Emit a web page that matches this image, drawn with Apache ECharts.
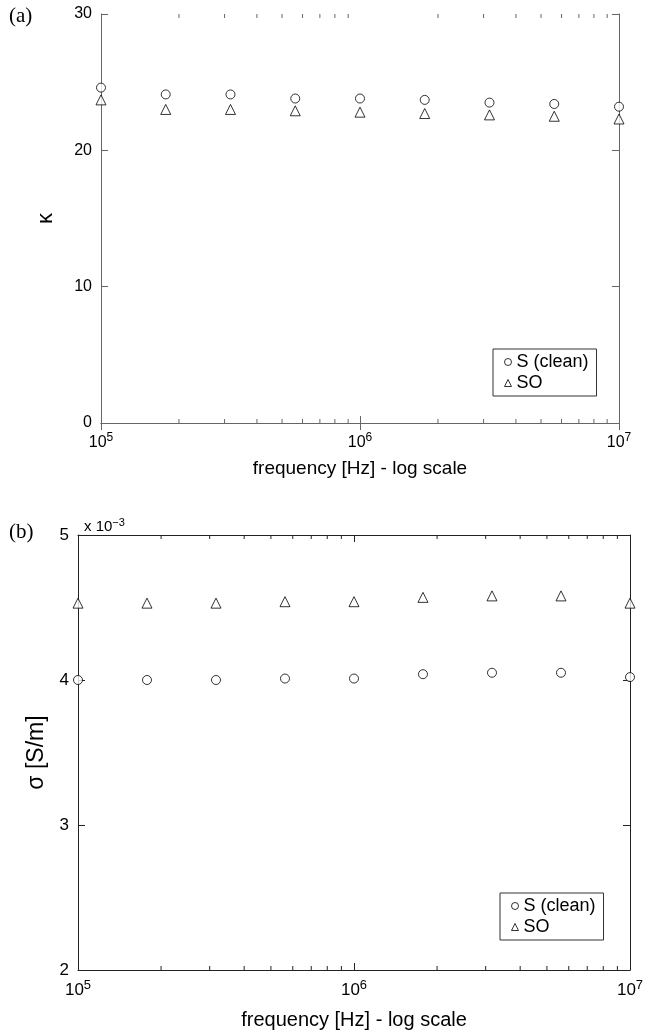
<!DOCTYPE html>
<html>
<head>
<meta charset="utf-8">
<script src="https://cdn.jsdelivr.net/npm/echarts@6/dist/echarts.min.js"></script>
<style>
  html, body { margin: 0; padding: 0; background: #fff; }
  #main { width: 662px; height: 1036px; }
</style>
</head>
<body>
<div id="main"></div>
<script>
// frequencies, 4 per decade
const freqs = [1e5, 1.778e5, 3.162e5, 5.623e5, 1e6, 1.778e6, 3.162e6, 5.623e6, 1e7];
// (a) dielectric constant
const kappaClean = [24.6, 24.1, 24.1, 23.8, 23.8, 23.7, 23.5, 23.4, 23.2];
const kappaSO = [23.7, 23.0, 23.0, 22.9, 22.8, 22.7, 22.6, 22.5, 22.3];
// (b) conductivity, x 10^-3 S/m
const sigmaClean = [4.00, 4.00, 4.00, 4.01, 4.01, 4.04, 4.05, 4.05, 4.02];
const sigmaSO = [4.53, 4.53, 4.53, 4.54, 4.54, 4.57, 4.58, 4.58, 4.53];
// log minor tick positions
const minorTicks = [2e5, 3e5, 4e5, 5e5, 6e5, 7e5, 8e5, 9e5, 2e6, 3e6, 4e6, 5e6, 6e6, 7e6, 8e6, 9e6];
const kappaRange = [0, 30];
const sigmaRange = [2, 5];

const font = 'Liberation Sans';
const chart = echarts.init(document.getElementById('main'));

function pair (ys) {
  return freqs.map((f, i) => [f, ys[i]]);
}

function xAxes (grid, color, size) {
  const line = { lineStyle: { color: color, width: 1 } };
  return [
    {
      type: 'log',
      logBase: 10,
      gridIndex: grid,
      min: 1e5,
      max: 1e7,
      axisLine: line,
      axisTick: { inside: true, length: 7, lineStyle: { color: color } },
      splitLine: { show: false },
      axisLabel: {
        margin: 9,
        formatter: function (v) {
          return '{b|10}{s|' + Math.round(Math.log10(v)) + '}';
        },
        rich: {
          b: { fontFamily: font, fontSize: size, color: '#000' },
          s: { fontFamily: font, fontSize: size - 4, color: '#000', padding: [0, 0, 10, 0] }
        }
      },
      name: 'frequency [Hz] - log scale',
      nameLocation: 'middle',
      nameGap: grid === 0 ? 36 : 40,
      nameTextStyle: { fontFamily: font, fontSize: size + 3, color: '#000' }
    },
    {
      type: 'log',
      logBase: 10,
      gridIndex: grid,
      position: 'top',
      min: 1e5,
      max: 1e7,
      axisLine: line,
      axisTick: { inside: true, length: 7, lineStyle: { color: color } },
      axisLabel: { show: false },
      splitLine: { show: false }
    }
  ];
}

function yAxes (grid, range, step, color, size, name, nameSize, gap) {
  const line = { lineStyle: { color: color, width: 1 } };
  return [
    {
      type: 'value',
      gridIndex: grid,
      min: range[0],
      max: range[1],
      interval: step,
      axisLine: line,
      axisTick: { inside: true, length: 7, lineStyle: { color: color } },
      splitLine: { show: false },
      axisLabel: { margin: 9, fontFamily: font, fontSize: size, color: '#000' },
      name: name,
      nameLocation: 'middle',
      nameRotate: 90,
      nameGap: gap,
      nameTextStyle: { fontFamily: font, fontSize: nameSize, color: '#000' }
    },
    {
      type: 'value',
      gridIndex: grid,
      position: 'right',
      min: range[0],
      max: range[1],
      interval: step,
      axisLine: line,
      axisTick: { inside: true, length: 7, lineStyle: { color: color } },
      splitLine: { show: false },
      axisLabel: { show: false }
    }
  ];
}

function minorSeries (xi, yi, range, color) {
  return {
    type: 'custom',
    xAxisIndex: xi,
    yAxisIndex: yi,
    silent: true,
    clip: false,
    data: minorTicks.map((v) => [v]),
    renderItem: function (params, api) {
      const v = api.value(0);
      const b = api.coord([v, range[0]]);
      const t = api.coord([v, range[1]]);
      const st = { stroke: color, lineWidth: 1 };
      return {
        type: 'group',
        children: [
          { type: 'line', shape: { x1: b[0], y1: b[1], x2: b[0], y2: b[1] - 4 }, style: st },
          { type: 'line', shape: { x1: t[0], y1: t[1], x2: t[0], y2: t[1] + 4 }, style: st }
        ]
      };
    }
  };
}

function scatter (name, xi, yi, data, symbol, size) {
  return {
    name: name,
    type: 'scatter',
    xAxisIndex: xi,
    yAxisIndex: yi,
    clip: false,
    symbol: symbol,
    symbolSize: size,
    itemStyle: { color: '#fff', borderColor: '#000', borderWidth: 1 },
    data: data
  };
}

function legendAt (left, top) {
  return {
    left: left,
    top: top,
    orient: 'vertical',
    data: ['S (clean)', 'SO'],
    borderColor: '#333',
    borderWidth: 1,
    borderRadius: 0,
    padding: [4, 8, 4, 11],
    itemGap: 3,
    itemWidth: 7,
    itemHeight: 7,
    itemStyle: { borderWidth: 1, color: '#fff', borderColor: '#000' },
    selectedMode: false,
    textStyle: { fontFamily: font, fontSize: 18, color: '#000' }
  };
}

const option = {
  backgroundColor: '#fff',
  animation: false,
  title: [
    { text: '(a)', left: 4, top: 1, textStyle: { fontFamily: 'Liberation Serif', fontSize: 21, fontWeight: 'normal', color: '#000' } },
    { text: '(b)', left: 4, top: 517, textStyle: { fontFamily: 'Liberation Serif', fontSize: 21, fontWeight: 'normal', color: '#000' } },
    {
      text: '{t|x 10}{s|\u22123}',
      left: 79,
      top: 512,
      textStyle: {
        fontWeight: 'normal',
        rich: {
          t: { fontFamily: font, fontSize: 15, fontWeight: 'normal', color: '#000' },
          s: { fontFamily: font, fontSize: 11, fontWeight: 'normal', color: '#000', padding: [0, 0, 9, 0] }
        }
      }
    }
  ],
  legend: [legendAt(493, 349), legendAt(500, 893)],
  grid: [
    { left: 101, right: 43, top: 14, height: 409 },
    { left: 78, right: 32, top: 535, height: 435 }
  ],
  xAxis: [].concat(xAxes(0, '#666', 16), xAxes(1, '#222', 17)),
  yAxis: [].concat(
    yAxes(0, kappaRange, 10, '#666', 16, '\u03ba', 22, 44),
    yAxes(1, sigmaRange, 1, '#222', 17, '\u03c3 [S/m]', 23, 30)
  ),
  series: [
    minorSeries(0, 0, kappaRange, '#666'),
    minorSeries(2, 2, sigmaRange, '#222'),
    scatter('S (clean)', 0, 0, pair(kappaClean), 'circle', 9),
    scatter('SO', 0, 0, pair(kappaSO), 'triangle', 10),
    scatter('S (clean)', 2, 2, pair(sigmaClean), 'circle', 9),
    scatter('SO', 2, 2, pair(sigmaSO), 'triangle', 10)
  ]
};

chart.setOption(option);
window.onresize = chart.resize;
</script>
</body>
</html>
